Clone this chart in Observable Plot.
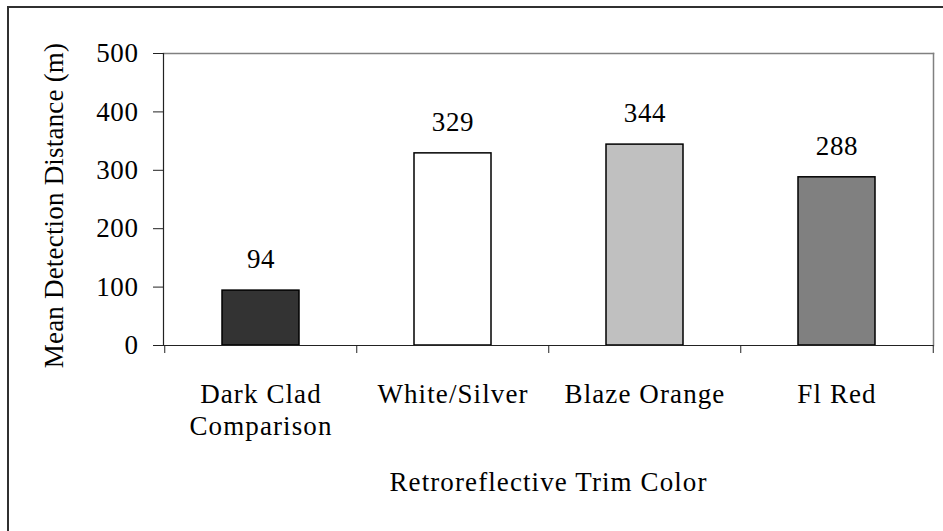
<!DOCTYPE html>
<html>
<head>
<meta charset="utf-8">
<script src="https://cdn.jsdelivr.net/npm/d3@7"></script>
<script src="https://cdn.jsdelivr.net/npm/@observablehq/plot@0.6"></script>
<style>
  html, body { margin: 0; padding: 0; background: #fff; overflow: hidden; }
  #wrap { position: relative; width: 943px; height: 531px; }
  #outer { position: absolute; left: 7px; top: 6px; width: 2000px; height: 2000px;
           border-top: 2px solid #303030; border-left: 2px solid #303030; pointer-events: none; }
  svg text { font-family: "Liberation Serif", "Times New Roman", serif; }
  .ls-wide text, text.ls-wide { letter-spacing: 1.1px; }
  .ls-num text, text.ls-num { letter-spacing: 0.6px; }
  .ls-tight text, text.ls-tight { letter-spacing: 0.2px; }
</style>
</head>
<body>
<div id="wrap"><div id="outer"></div></div>
<script>
const categories = ["Dark Clad\nComparison", "White/Silver", "Blaze Orange", "Fl Red"];
const values = [94, 329, 344, 288];
const barColors = ["#333333", "#ffffff", "#c0c0c0", "#808080"];
const yTicks = [0, 100, 200, 300, 400, 500];
const yTitle = "Mean Detection Distance (m)";
const xTitle = "Retroreflective Trim Color";

const data = categories.map((c, i) => ({cat: c, value: values[i], color: barColors[i]}));

const width = 943, height = 531;
const mL = 163, mR = 10, mT = 53, mB = 186;
const step = (width - mL - mR) / categories.length;

const chart = Plot.plot({
  width, height,
  marginLeft: mL, marginRight: mR, marginTop: mT, marginBottom: mB,
  style: {fontFamily: "'Liberation Serif', 'Times New Roman', serif", fontSize: "27px", color: "#000", background: "#fff"},
  x: {domain: categories, paddingInner: 0.6, paddingOuter: 0.3, axis: null},
  y: {domain: [0, 500], axis: null},
  marks: [
    Plot.frame({anchor: "top", stroke: "#808080", strokeWidth: 1.5}),
    Plot.frame({anchor: "right", stroke: "#808080", strokeWidth: 1.5}),
    Plot.barY(data, {x: "cat", y: "value", fill: "color", stroke: "#000", strokeWidth: 1.5}),
    Plot.frame({anchor: "left", stroke: "#222", strokeWidth: 1.2}),
    Plot.ruleY([0], {stroke: "#222", strokeWidth: 1.2}),
    Plot.axisY(yTicks, {anchor: "left", tickSize: 10, tickPadding: 15, stroke: "#222",
      fontSize: 27, label: null, className: "ls-num"}),
    Plot.axisX(categories, {anchor: "bottom", tickSize: 8, tickFormat: null, dx: -step / 2, stroke: "#222", label: null}),
    Plot.axisX([categories[categories.length - 1]], {anchor: "bottom", tickSize: 8, tickFormat: null, dx: step / 2, stroke: "#222", label: null}),
    Plot.axisX(categories, {anchor: "bottom", tickSize: 0, tickPadding: 34, fontSize: 27,
      lineHeight: 1.2, label: null, className: "ls-wide"}),
    Plot.text(data, {x: "cat", y: "value", text: d => String(d.value), lineAnchor: "middle", dy: -31,
      fontSize: 27, fill: "#000", className: "ls-num"}),
    Plot.text([yTitle], {frameAnchor: "left", textAnchor: "middle", rotate: -90, dx: -109, dy: 6, lineAnchor: "middle",
      fontSize: 27, fill: "#000", className: "ls-tight"}),
    Plot.text([xTitle], {frameAnchor: "bottom", textAnchor: "middle", dy: 137, lineAnchor: "middle",
      fontSize: 27, fill: "#000", className: "ls-wide"})
  ]
});
document.getElementById("wrap").insertBefore(chart, document.getElementById("outer"));
</script>
</body>
</html>
